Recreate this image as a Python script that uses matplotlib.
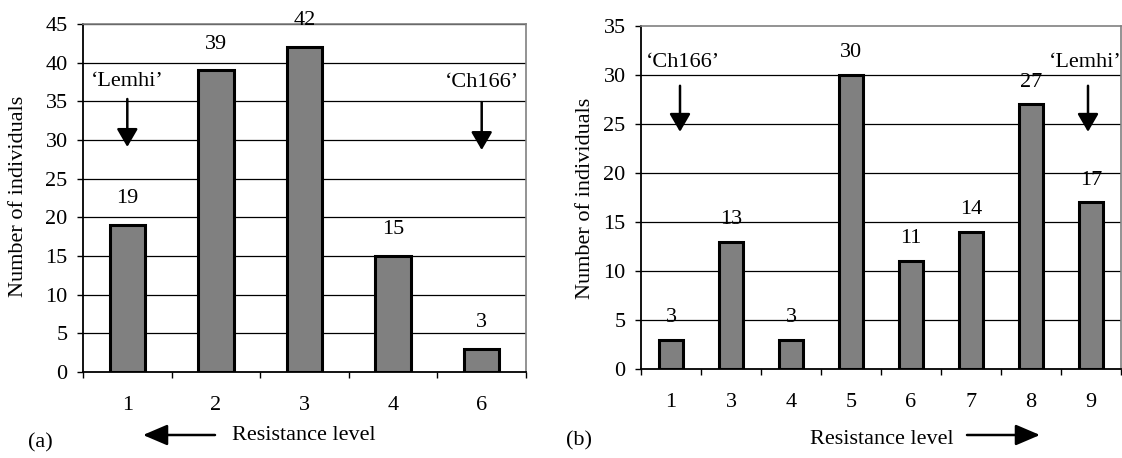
import numpy as np
import matplotlib.pyplot as plt

plt.rcParams['font.family'] = ['Liberation Serif', 'DejaVu Serif']

# panel (a)
levels_a = ['1', '2', '3', '4', '6']
counts_a = [19, 39, 42, 15, 3]
# panel (b)
levels_b = ['1', '3', '4', '5', '6', '7', '8', '9']
counts_b = [3, 13, 3, 30, 11, 14, 27, 17]

W, H = 1122, 458
fig = plt.figure(figsize=(W / 100, H / 100), dpi=100)

def px(x, y):
    return x / W, 1 - y / H

FS = 16

def draw(ax, levels, counts, ymax, label_off, top_grid):
    x = np.arange(len(levels))
    ax.bar(x, counts, width=0.4, color='#808080', edgecolor='k', linewidth=2.2, zorder=3)
    ax.set_xlim(-0.5, len(levels) - 0.5)
    ax.set_ylim(0, ymax)
    yt = np.arange(0, ymax + 1, 5)
    ax.set_yticks(yt)
    for v in yt[1:]:
        if v == ymax and not top_grid:
            continue
        ax.axhline(v, color='k', lw=0.9, zorder=1)
    ax.set_xticks(x)
    ax.set_xticklabels(levels)
    ax.set_xticks(np.arange(len(levels) + 1) - 0.5, minor=True)
    ax.tick_params(axis='x', which='major', length=0, pad=17, labelsize=FS)
    ax.tick_params(axis='x', which='minor', length=4, width=1, direction='out')
    ax.tick_params(axis='y', length=4, width=1, direction='out', pad=7, labelsize=FS)
    for s in ['top', 'right']:
        ax.spines[s].set_color('#808080')
        ax.spines[s].set_linewidth(1.2)
    for s in ['left', 'bottom']:
        ax.spines[s].set_color('k')
        ax.spines[s].set_linewidth(1.3)
    for xi, c in zip(x, counts):
        ax.annotate(str(c), (xi, c), xytext=(0, label_off), textcoords='offset points',
                    ha='center', va='center', fontsize=FS, zorder=4)

def down_arrow(ax, xt, yt, x0, y0, y1, text):
    ax.text(xt, yt, text, ha='center', va='center', fontsize=FS)
    ax.annotate('', xy=(x0, y1), xytext=(x0, y0),
                arrowprops=dict(arrowstyle='-|>,head_length=0.55,head_width=0.32',
                                mutation_scale=20, color='k', lw=1.8, shrinkA=0, shrinkB=0))

l, b = px(83, 372)
r, t = px(526, 24)
ax1 = fig.add_axes([l, b, r - l, t - b])
draw(ax1, levels_a, counts_a, 45, 19, True)
down_arrow(ax1, 0, 37.5, 0, 35.3, 29.1, '\u2018Lemhi\u2019')
down_arrow(ax1, 4, 37.4, 4, 34.9, 28.7, '\u2018Ch166\u2019')

l, b = px(641, 369)
r, t = px(1121, 26)
ax2 = fig.add_axes([l, b, r - l, t - b])
draw(ax2, levels_b, counts_b, 35, 16, False)
down_arrow(ax2, 0.2, 31.3, 0.15, 28.9, 24.2, '\u2018Ch166\u2019')
down_arrow(ax2, 6.9, 31.3, 6.95, 28.9, 24.2, '\u2018Lemhi\u2019')

# axis labels and panel letters
fig.text(*px(19, 196), 'Number of individuals', rotation=90, ha='center', va='center', fontsize=FS)
fig.text(*px(585, 198), 'Number of individuals', rotation=90, ha='center', va='center', fontsize=FS)
fig.text(*px(304, 435), 'Resistance level', ha='center', va='center', fontsize=FS)
fig.text(*px(882, 440), 'Resistance level', ha='center', va='center', fontsize=FS)
fig.text(*px(40, 443), '(a)', ha='center', va='center', fontsize=FS)
fig.text(*px(579, 441), '(b)', ha='center', va='center', fontsize=FS)

arr = dict(arrowstyle='-|>,head_length=0.75,head_width=0.32', mutation_scale=20,
           color='k', lw=1.8, shrinkA=0, shrinkB=0)
fig.add_artist(plt.Annotation('', xy=px(143, 435), xytext=px(215, 435),
                              xycoords='figure fraction', arrowprops=arr))
fig.add_artist(plt.Annotation('', xy=px(1040, 435), xytext=px(967, 435),
                              xycoords='figure fraction', arrowprops=arr))

fig.savefig('out.png', dpi=100)
